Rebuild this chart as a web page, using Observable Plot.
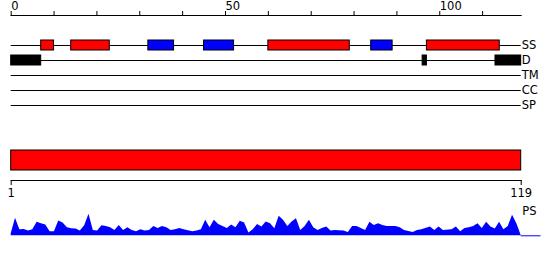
<!DOCTYPE html>
<html>
<head>
<meta charset="utf-8">
<script src="https://cdn.jsdelivr.net/npm/d3@7"></script>
<script src="https://cdn.jsdelivr.net/npm/@observablehq/plot@0.6"></script>
<style>
  html, body { margin: 0; padding: 0; background: #fff; }
  #chart { position: relative; width: 550px; height: 260px; overflow: hidden; }
  #chart > * { position: absolute; left: 0; }
</style>
</head>
<body>
<div id="chart"></div>
<script>
// ---- data ----
const topDomain = [0, 119];
const topTicks = [0, 10, 20, 30, 40, 50, 60, 70, 80, 90, 100, 110];
const topTickLabels = [0, 50, 100];
const tracks = ["SS", "D", "TM", "CC", "SP"];

// secondary structure segments (helix = red, strand = blue)
const ssStart = [7, 14, 32, 45, 60, 84, 97];
const ssEnd   = [10, 23, 38, 52, 79, 89, 114];
const ssType  = ["helix", "helix", "strand", "strand", "helix", "strand", "helix"];

// disorder segments
const dStart = [0, 96, 113];
const dEnd   = [7, 97, 119];

// sequence bar
const seqStart = 1;
const seqEnd = 119;
const seqTicks = [1, 119];

// PS profile (residue, value)
const psPos = [1,2,3,4,5,6,7,8,9,10,11,12,13,14,15,16,17,18,19,20,21,22,23,24,25,26,27,28,29,30,31,32,33,34,35,36,37,38,39,40,41,43,44,45,46,47,48,49,50,51,52,53,54,55,56,57,58,59,60,61,62,63,64,65,66,67,68,69,70,71,72,73,74,75,76,78,79,80,81,83,84,85,86,87,88,90,91,92,94,95,96,98,99,100,101,103,104,105,106,107,108,109,110,111,112,113,114,115,116,117,118,119];
const psVal = [2,17.3,6,6.3,4.7,6,13.3,12,10.7,4,4,14.7,12.7,8,7,6.7,4.7,10,21.3,5.3,4.7,10,9.3,8,5.3,10.3,5.3,8,5.3,4,6,4.7,5.3,9.3,7.3,9.3,8,5.3,6,7.3,6,4,4.7,6,15.3,8,15.3,11.3,9.3,7.3,10.7,8,14.3,12.7,2.7,6,11.3,8.7,13.7,12,7,19.3,15.3,9.3,13.7,17,5.3,9.3,15.3,8,5.3,7.3,8.7,4.7,5.3,4.7,3.3,9.3,9.3,5.3,13.3,10.3,12,10.3,9.3,9.3,8,5.3,3.3,5.3,6,8.7,5.3,8.7,5.3,6,8.7,4,7.3,8,9.3,12,7.3,13.3,8.7,6.7,13.3,6,9.3,20.3,12,0.3];
const psDomain = [0, 30];
const psTrackEnd = 123.6;

// ---- derived tables ----
const ss = ssStart.map((s, i) => ({start: s, end: ssEnd[i], type: ssType[i]}));
const dis = dStart.map((s, i) => ({start: s, end: dEnd[i]}));
const ps = psPos.map((p, i) => ({pos: p, value: psVal[i]}));
const ssColor = {helix: "#ff0000", strand: "#0000ff"};

const font = {fontFamily: "DejaVu Sans, sans-serif", fontSize: "11.5px", color: "black", background: "white", overflow: "visible"};
const W = 550, ML = 10.7, MR = 29.3;
const chart = document.getElementById("chart");

// top: feature tracks
const p1 = Plot.plot({
  width: W, height: 115,
  marginLeft: ML, marginRight: MR, marginTop: 15, marginBottom: 0,
  style: font,
  x: {domain: topDomain},
  y: {type: "band", domain: tracks, range: [37.5, 112.5], padding: 0, round: false, axis: null},
  marks: [
    Plot.frame({anchor: "top", stroke: "black"}),
    Plot.axisX({anchor: "top", ticks: topTicks, tickSize: 5, tickPadding: 1,
      tickFormat: d => topTickLabels.includes(d) ? String(d) : "", textAnchor: "start"}),
    Plot.ruleY(tracks, {y: d => d, stroke: "black"}),
    Plot.barX(ss, {x1: "start", x2: "end", y: () => "SS", fill: d => ssColor[d.type], stroke: "black", insetTop: 2.5, insetBottom: 2.5}),
    Plot.barX(dis, {x1: "start", x2: "end", y: () => "D", fill: "black", stroke: "black", insetTop: 2.5, insetBottom: 2.5}),
    Plot.text(tracks, {y: d => d, text: d => d, frameAnchor: "right", textAnchor: "start", dx: 0.5, fill: "black"})
  ]
});
p1.style.top = "0px";
chart.appendChild(p1);

// middle: sequence bar and axis
const p2 = Plot.plot({
  width: W, height: 60,
  marginLeft: ML, marginRight: MR, marginTop: 10, marginBottom: 20,
  style: font,
  x: {domain: [seqStart, seqEnd]},
  marks: [
    Plot.barX([{start: seqStart, end: seqEnd}], {x1: "start", x2: "end", fill: "#ff0000", stroke: "black", insetBottom: 10}),
    Plot.frame({anchor: "bottom", stroke: "black"}),
    Plot.axisX({anchor: "bottom", ticks: seqTicks, tickSize: 5, tickPadding: 3, tickFormat: d => String(d)})
  ]
});
p2.style.top = "140px";
chart.appendChild(p2);

// bottom: PS profile
const p3 = Plot.plot({
  width: W, height: 60,
  marginLeft: ML, marginRight: MR, marginTop: 5, marginBottom: 24.7,
  style: font,
  x: {domain: [seqStart, seqEnd], axis: null},
  y: {domain: psDomain, axis: null},
  marks: [
    Plot.areaY(ps, {x: "pos", y: "value", fill: "#0000ff", curve: "linear"}),
    Plot.ruleY([0], {x1: seqEnd, x2: psTrackEnd, stroke: "#0000ff"}),
    Plot.text(["PS"], {frameAnchor: "top-right", textAnchor: "start", lineAnchor: "top", dx: 1, dy: 1.5, fill: "black"})
  ]
});
p3.style.top = "200px";
chart.appendChild(p3);
</script>
</body>
</html>
